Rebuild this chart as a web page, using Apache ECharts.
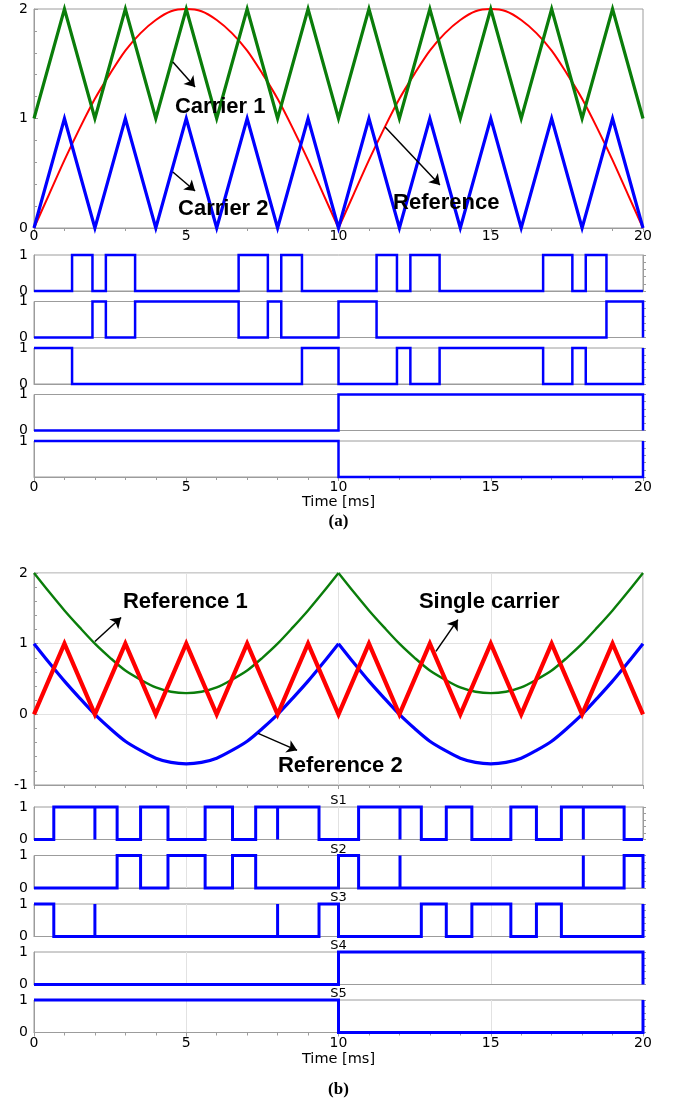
<!DOCTYPE html>
<html>
<head>
<meta charset="utf-8">
<title>Level-shifted and single-carrier PWM</title>
<script src="https://cdn.jsdelivr.net/npm/echarts@6/dist/echarts.min.js"></script>
<style>
  html, body { margin: 0; padding: 0; background: #ffffff; }
  #chart { width: 677px; height: 1106px; }
</style>
</head>
<body>
<div id="chart"></div>
<script>
// ---------------------------------------------------------------
// Data
// ---------------------------------------------------------------
// sample instants (ms) of the reference waveforms
const sampleTimes = [0, 0.5, 1, 1.5, 2, 2.5, 3, 3.5, 4, 4.5, 5, 5.5, 6, 6.5, 7, 7.5, 8, 8.5, 9, 9.5,
  10, 10.5, 11, 11.5, 12, 12.5, 13, 13.5, 14, 14.5, 15, 15.5, 16, 16.5, 17, 17.5, 18, 18.5, 19, 19.5, 20];

// (a) rectified sine reference
const referenceA = [0, 0.31, 0.62, 0.91, 1.18, 1.41, 1.62, 1.78, 1.9, 1.98, 2, 1.98, 1.9, 1.78, 1.62, 1.41, 1.18, 0.91, 0.62, 0.31,
  0, 0.31, 0.62, 0.91, 1.18, 1.41, 1.62, 1.78, 1.9, 1.98, 2, 1.98, 1.9, 1.78, 1.62, 1.41, 1.18, 0.91, 0.62, 0.31, 0];

// (b) references 1 and 2
const reference1B = [2, 1.73, 1.47, 1.23, 1, 0.8, 0.62, 0.49, 0.38, 0.32, 0.3, 0.32, 0.38, 0.49, 0.62, 0.8, 1, 1.23, 1.47, 1.73,
  2, 1.73, 1.47, 1.23, 1, 0.8, 0.62, 0.49, 0.38, 0.32, 0.3, 0.32, 0.38, 0.49, 0.62, 0.8, 1, 1.23, 1.47, 1.73, 2];
const reference2B = [1, 0.73, 0.47, 0.23, 0, -0.2, -0.38, -0.51, -0.62, -0.68, -0.7, -0.68, -0.62, -0.51, -0.38, -0.2, 0, 0.23, 0.47, 0.73,
  1, 0.73, 0.47, 0.23, 0, -0.2, -0.38, -0.51, -0.62, -0.68, -0.7, -0.68, -0.62, -0.51, -0.38, -0.2, 0, 0.23, 0.47, 0.73, 1];

// triangular carriers: vertices every 1 ms
const carrierTimes = [0, 1, 2, 3, 4, 5, 6, 7, 8, 9, 10, 11, 12, 13, 14, 15, 16, 17, 18, 19, 20];
const carrier1A = [1, 2, 1, 2, 1, 2, 1, 2, 1, 2, 1, 2, 1, 2, 1, 2, 1, 2, 1, 2, 1];
const carrier2A = [0, 1, 0, 1, 0, 1, 0, 1, 0, 1, 0, 1, 0, 1, 0, 1, 0, 1, 0, 1, 0];
const carrierB  = [0, 1, 0, 1, 0, 1, 0, 1, 0, 1, 0, 1, 0, 1, 0, 1, 0, 1, 0, 1, 0];

// gate signals: [time (ms), new level]
const gatesA = [
  [[0,0],[1.25,1],[1.92,0],[2.36,1],[3.32,0],[6.72,1],[7.68,0],[8.12,1],[8.8,0],
   [11.25,1],[11.92,0],[12.36,1],[13.32,0],[16.72,1],[17.68,0],[18.12,1],[18.8,0],[20,0]],
  [[0,0],[1.92,1],[2.36,0],[3.32,1],[6.72,0],[7.68,1],[8.12,0],[10,1],[11.25,0],[18.8,1],[20,0]],
  [[0,1],[1.25,0],[8.8,1],[10,0],[11.92,1],[12.36,0],[13.32,1],[16.72,0],[17.68,1],[18.12,0],[20,1]],
  [[0,0],[10,1],[20,0]],
  [[0,1],[10,0],[20,1]]
];
const gatesB = [
  [[0,0],[0.65,1],[2,0],[2,1],[2.73,0],[3.5,1],[4.4,0],[5.62,1],[6.52,0],[7.28,1],[8,0],[8,1],[9.36,0],
   [10.66,1],[12.02,0],[12.02,1],[12.72,0],[13.54,1],[14.38,0],[15.66,1],[16.5,0],[17.32,1],[18.04,0],[18.04,1],[19.38,0],[20,0]],
  [[0,0],[2.73,1],[3.5,0],[4.4,1],[5.62,0],[6.52,1],[7.28,0],[10,1],[10.66,0],[12.02,1],[12.02,0],[18.04,1],[18.04,0],[19.38,1],[20,0]],
  [[0,1],[0.65,0],[2,1],[2,0],[8,1],[8,0],[9.36,1],[10,0],[12.72,1],[13.54,0],[14.38,1],[15.66,0],[16.5,1],[17.32,0],[20,1]],
  [[0,0],[10,1],[20,0]],
  [[0,1],[10,0],[20,1]]
];
const gateNamesB = ['S1', 'S2', 'S3', 'S4', 'S5'];

// tick labels
const timeTicks = [0, 5, 10, 15, 20];
const mainTicksA = [0, 1, 2];
const mainTicksB = [-1, 0, 1, 2];
const gateTicks = [0, 1];

// ---------------------------------------------------------------
// Layout and styling
// ---------------------------------------------------------------
const LEFT = 34, WIDTH = 609;
const GRAY = '#9c9c9c';
const FAINT = '#e2e2e2';
const TICK_FONT = 'DejaVu Sans';
const BLUE = '#0000ff', GREEN = '#0a7d0a', RED = '#ff0000';

const layoutA = { mainTop: 9, mainH: 219, subTops: [255, 301.5, 348, 394.5, 441], subH: 36 };
const layoutB = { mainTop: 573, mainH: 212, subTops: [807, 855.5, 904, 952, 1000], subH: 32.5 };

const grid = [], xAxis = [], yAxis = [], series = [];

const zip = (xs, ys) => xs.map((x, i) => [x, ys[i]]);
const labelStyle = { color: '#000', fontFamily: TICK_FONT, fontSize: 14 };

function addGrid(top, height) {
  grid.push({ left: LEFT, top: top, width: WIDTH, height: height, show: true,
    borderColor: GRAY, borderWidth: 1, backgroundColor: 'transparent' });
  return grid.length - 1;
}

function addXAxis(gi, o) {
  xAxis.push({
    gridIndex: gi, type: 'value', min: timeTicks[0], max: timeTicks[timeTicks.length - 1], interval: 5,
    axisLine: { show: true, onZero: false, lineStyle: { color: GRAY } },
    axisTick: { show: !!o.ticks, length: 4, lineStyle: { color: GRAY } },
    minorTick: { show: !!o.ticks, splitNumber: 5, length: 3, lineStyle: { color: GRAY } },
    axisLabel: { show: !!o.labels, margin: o.margin || 2, ...labelStyle },
    splitLine: { show: !!o.split, lineStyle: { color: FAINT } },
    name: o.name || '', nameLocation: 'middle', nameGap: o.nameGap || 0,
    nameTextStyle: { color: '#000', fontFamily: TICK_FONT, fontSize: 14.5 }
  });
  return xAxis.length - 1;
}

function addYAxis(gi, o) {
  yAxis.push({
    gridIndex: gi, type: 'value', min: o.ticks[0], max: o.ticks[o.ticks.length - 1], interval: 1,
    position: o.right ? 'right' : 'left',
    axisLine: { show: true, onZero: false, lineStyle: { color: GRAY } },
    axisTick: { show: !!o.tick, inside: !!o.inside, length: o.right ? 3 : 4, lineStyle: { color: GRAY } },
    minorTick: { show: !!o.tick, splitNumber: 5, length: 3, lineStyle: { color: GRAY } },
    axisLabel: { show: !o.right, margin: 6, formatter: o.formatter, ...labelStyle },
    splitLine: { show: !!o.split, lineStyle: { color: FAINT } }
  });
  return yAxis.length - 1;
}

function curve(xi, yi, data, color, width, z, extra) {
  series.push(Object.assign({
    type: 'line', xAxisIndex: xi, yAxisIndex: yi, data: data,
    symbol: 'none', showSymbol: false, clip: false, animation: false, silent: true,
    lineStyle: { color: color, width: width, join: 'miter' }, z: z
  }, extra || {}));
}

// a rectified-sine style waveform: two smooth half-periods meeting in a cusp at 10 ms
function cuspCurve(xi, yi, values, color, width, z, extra) {
  const mid = sampleTimes.indexOf(10);
  curve(xi, yi, zip(sampleTimes.slice(0, mid + 1), values.slice(0, mid + 1)), color, width, z,
        Object.assign({ smooth: 0.3 }, extra || {}));
  curve(xi, yi, zip(sampleTimes.slice(mid), values.slice(mid)), color, width, z, { smooth: 0.3 });
}

function arrows(pairs) {
  return {
    silent: true, animation: false, symbol: ['none', 'arrow'], symbolSize: 10,
    label: { show: false }, lineStyle: { color: '#000', width: 1.5, type: 'solid' },
    itemStyle: { color: '#000' },
    data: pairs.map(p => [{ coord: p[0] }, { coord: p[1] }])
  };
}

const annotations = [];

// ---------- panel (a): main plot ----------
{
  const g = addGrid(layoutA.mainTop, layoutA.mainH);
  const xi = addXAxis(g, { ticks: true, labels: true, margin: 1 });
  const yi = addYAxis(g, { ticks: mainTicksA, tick: true, inside: true });
  cuspCurve(xi, yi, referenceA, RED, 2, 2, {
    markLine: arrows([
      [[4.56, 1.516], [5.29, 1.288]],
      [[4.56, 0.511], [5.29, 0.338]],
      [[11.53, 0.922], [13.33, 0.393]]
    ])
  });
  curve(xi, yi, zip(carrierTimes, carrier1A), GREEN, 3.2, 3);
  curve(xi, yi, zip(carrierTimes, carrier2A), BLUE, 3.2, 4);
  annotations.push({ xi, yi, text: 'Carrier 1', at: [4.63, 1.11] });
  annotations.push({ xi, yi, text: 'Carrier 2', at: [4.73, 0.174] });
  annotations.push({ xi, yi, text: 'Reference', at: [11.79, 0.228] });
}

// ---------- panel (a): gate signals ----------
gatesA.forEach((sig, k) => {
  const last = k === gatesA.length - 1;
  const g = addGrid(layoutA.subTops[k], layoutA.subH);
  const xi = addXAxis(g, last ? { ticks: true, labels: true, margin: 3, name: 'Time [ms]', nameGap: 12 } : {});
  const yi = addYAxis(g, { ticks: gateTicks, formatter: last ? (v => (v === 0 ? '' : String(v))) : undefined });
  addYAxis(g, { ticks: gateTicks, right: true, tick: true });
  curve(xi, yi, sig, BLUE, 2.5, 3, { step: 'end' });
});

// ---------- panel (b): main plot ----------
{
  const g = addGrid(layoutB.mainTop, layoutB.mainH);
  const xi = addXAxis(g, { ticks: true, labels: false, split: true });
  const yi = addYAxis(g, { ticks: mainTicksB, tick: true, inside: true, split: true });
  cuspCurve(xi, yi, reference1B, GREEN, 2.4, 2, {
    markLine: arrows([
      [[2.0, 1.03], [2.86, 1.37]],
      [[7.36, -0.27], [8.64, -0.51]],
      [[13.2, 0.89], [13.92, 1.34]]
    ])
  });
  cuspCurve(xi, yi, reference2B, BLUE, 3.2, 3);
  curve(xi, yi, zip(carrierTimes, carrierB), RED, 4.2, 4);
  annotations.push({ xi, yi, text: 'Reference 1', at: [2.92, 1.584] });
  annotations.push({ xi, yi, text: 'Reference 2', at: [8.01, -0.735] });
  annotations.push({ xi, yi, text: 'Single carrier', at: [12.64, 1.584] });
}

// ---------- panel (b): gate signals ----------
gatesB.forEach((sig, k) => {
  const last = k === gatesB.length - 1;
  const g = addGrid(layoutB.subTops[k], layoutB.subH);
  const xi = addXAxis(g, last ? { ticks: true, labels: true, margin: 4, split: true, name: 'Time [ms]', nameGap: 17 }
                              : { split: true });
  const yi = addYAxis(g, { ticks: gateTicks });
  addYAxis(g, { ticks: gateTicks, right: true, tick: true });
  curve(xi, yi, sig, BLUE, 3, 3, { step: 'end' });
});

const chart = echarts.init(document.getElementById('chart'), null, { renderer: 'canvas' });
chart.setOption({ animation: false, backgroundColor: '#ffffff', grid, xAxis, yAxis, series });

// text call-outs, gate names and panel captions
const graphic = annotations.map(a => {
  const p = chart.convertToPixel({ xAxisIndex: a.xi, yAxisIndex: a.yi }, a.at);
  return { type: 'text', x: p[0], y: p[1], silent: true, z: 100,
    style: { text: a.text, fill: '#000', fontFamily: 'Liberation Sans', fontWeight: 'bold', fontSize: 22,
             align: 'left', verticalAlign: 'middle' } };
});
gateNamesB.forEach((name, k) => {
  graphic.push({ type: 'text', x: LEFT + WIDTH / 2, y: layoutB.subTops[k] - 6, silent: true, z: 100,
    style: { text: name, fill: '#000', fontFamily: TICK_FONT, fontSize: 13, align: 'center', verticalAlign: 'middle' } });
});
graphic.push({ type: 'text', x: LEFT + WIDTH / 2, y: 522, silent: true,
  style: { text: '(a)', fill: '#000', fontFamily: 'Liberation Serif', fontWeight: 'bold', fontSize: 17, align: 'center', verticalAlign: 'middle' } });
graphic.push({ type: 'text', x: LEFT + WIDTH / 2, y: 1090, silent: true,
  style: { text: '(b)', fill: '#000', fontFamily: 'Liberation Serif', fontWeight: 'bold', fontSize: 17, align: 'center', verticalAlign: 'middle' } });
chart.setOption({ graphic });
</script>
</body>
</html>
